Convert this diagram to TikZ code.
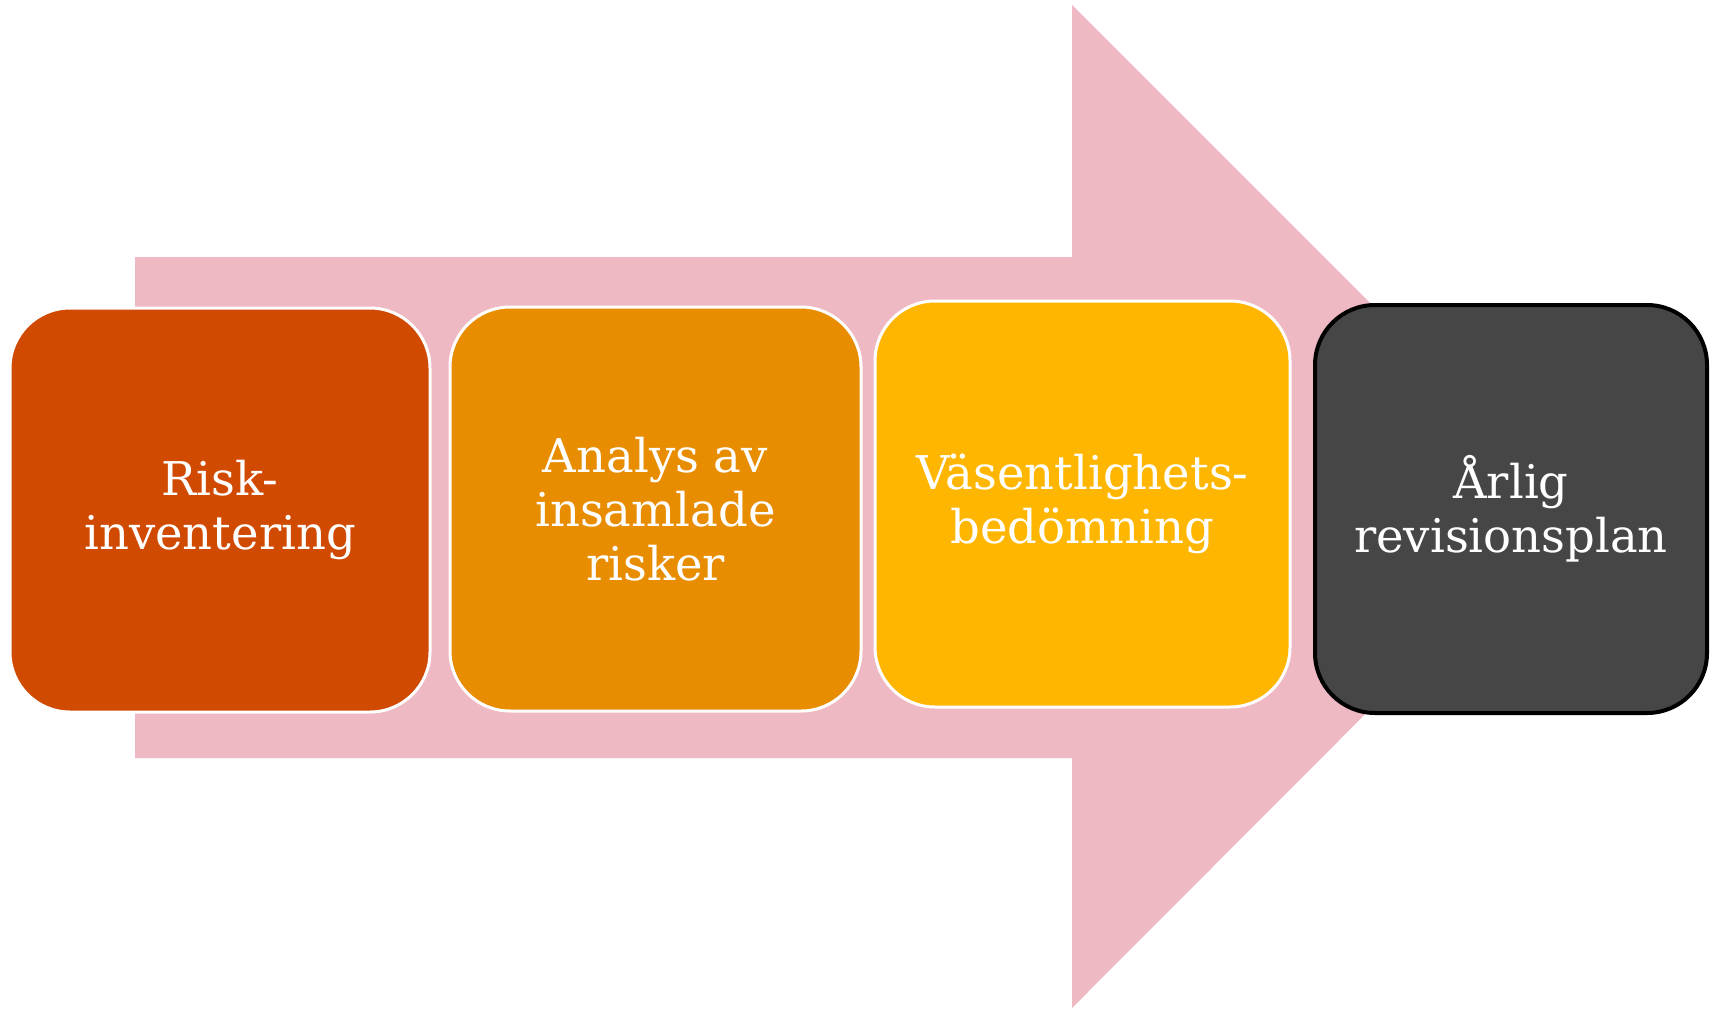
\documentclass[tikz,border=0pt]{standalone}
\usepackage{fontspec}
\setmainfont{DejaVu Serif}
\usepackage{tikz}
\definecolor{pil}{RGB}{239,185,195}
\definecolor{steg1}{RGB}{208,74,2}
\definecolor{steg2}{RGB}{232,140,0}
\definecolor{steg3}{RGB}{255,182,0}
\definecolor{steg4}{RGB}{70,70,70}

\begin{document}
\begin{tikzpicture}[x=1pt,y=-1pt,
	box/.style={rounded corners=60pt,draw=white,line width=3pt,text=white,align=center,
	font=\fontsize{46.5}{54}\selectfont,inner sep=0pt}]
\useasboundingbox (0,0) rectangle (1715,1012);
% stor pil bakom stegen
\fill[pil] (135,257) -- (1072,257) -- (1072,5) -- (1573,506) -- (1072,1008) -- (1072,758) -- (135,758) -- cycle;
\node[box, fill=steg1, minimum width=420pt, minimum height=404pt] (risk) at (220,510) {Risk-\\inventering};
\node[box, fill=steg2, minimum width=411pt, minimum height=404pt] (analys) at (655.5,509) {Analys av\\insamlade\\risker};
\node[box, fill=steg3, minimum width=415pt, minimum height=406pt] (vasent) at (1082.5,504) {Väsentlighets-\\bedömning};
\node[box, fill=steg4, draw=black, line width=4pt, minimum width=392pt, minimum height=408pt] (plan) at (1511,509) {Årlig\\revisionsplan};
\end{tikzpicture}
\end{document}
